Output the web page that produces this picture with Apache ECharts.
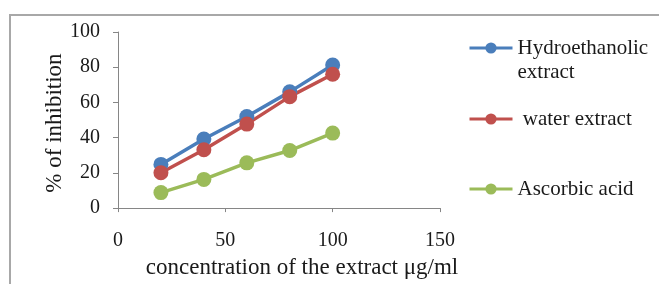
<!DOCTYPE html>
<html>
<head>
<meta charset="utf-8">
<script src="https://cdn.jsdelivr.net/npm/echarts@6/dist/echarts.min.js"></script>
<style>
  body { margin: 0; background: #fff; }
  #wrap { position: relative; width: 659px; height: 284px; overflow: hidden; }
  #frame { position: absolute; left: 9px; top: 14px; width: 700px; height: 300px;
           border-left: 2px solid #a8a8a8; border-top: 2px solid #a8a8a8; }
  #chart { position: absolute; left: 0; top: 0; width: 659px; height: 284px; }
</style>
</head>
<body>
<div id="wrap">
  <div id="frame"></div>
  <div id="chart"></div>
</div>
<script>
// concentration (µg/ml)
const concentrations = [20, 40, 60, 80, 100]
// % of inhibition
const hydroethanolic = [24.8, 39.2, 52, 66, 81.3]
const waterExtract = [20.1, 33.1, 47.7, 63.3, 76]
const ascorbicAcid = [8.8, 16.3, 25.7, 32.7, 42.6]
const seriesNames = ['Hydroethanolic\nextract', ' water extract', 'Ascorbic acid']
const colors = ['#4a7ebb', '#c0504d', '#9bbb59']

const font = 'Liberation Serif'

function pairs (ys) {
  return concentrations.map((x, i) => [x, ys[i]])
}

function makeSeries (name, ys, color) {
  return {
    name: name,
    type: 'line',
    data: pairs(ys),
    symbol: 'circle',
    symbolSize: 15,
    color: color,
    lineStyle: { width: 3.5, color: color },
    itemStyle: { color: color }
  }
}

// one legend block per series so each can sit where the original put it
function makeLegend (name, top, formatter) {
  return {
    data: [name],
    orient: 'vertical',
    left: 468,
    top: top,
    padding: 0,
    itemWidth: 43,
    itemHeight: 14,
    lineStyle: { width: 3 },
    formatter: formatter,
    textStyle: { fontFamily: font, fontSize: 21, color: '#1a1a1a', lineHeight: 24 }
  }
}

const chart = echarts.init(document.getElementById('chart'))
chart.setOption({
  animation: false,
  backgroundColor: 'transparent',
  grid: { left: 118, top: 32, width: 322, height: 177 },
  legend: [
    // empty first line so the first text line lines up with the icon
    makeLegend(seriesNames[0], 12, function (name) { return '\n' + name }),
    makeLegend(seriesNames[1], 107),
    makeLegend(seriesNames[2], 177)
  ],
  xAxis: {
    type: 'value',
    min: 0,
    max: 150,
    interval: 50,
    name: 'concentration of the extract μg/ml',
    nameLocation: 'middle',
    nameGap: 46,
    nameTextStyle: { fontFamily: font, fontSize: 23, color: '#1a1a1a', padding: [0, 0, 0, 46] },
    axisLine: { lineStyle: { color: '#868686', width: 1 } },
    axisTick: { show: true, length: 4, lineStyle: { color: '#868686' } },
    axisLabel: { fontFamily: font, fontSize: 20, color: '#1a1a1a', margin: 23 },
    splitLine: { show: false }
  },
  yAxis: {
    type: 'value',
    min: 0,
    max: 100,
    interval: 20,
    name: '% of inhibition',
    nameLocation: 'middle',
    nameGap: 49,
    nameTextStyle: { fontFamily: font, fontSize: 23, color: '#1a1a1a', padding: [0, 6, 0, 0] },
    axisLine: { show: true, lineStyle: { color: '#868686', width: 1 } },
    axisTick: { show: true, length: 5, lineStyle: { color: '#868686' } },
    axisLabel: { fontFamily: font, fontSize: 20, color: '#1a1a1a', margin: 18 },
    splitLine: { show: false }
  },
  series: [
    makeSeries(seriesNames[0], hydroethanolic, colors[0]),
    makeSeries(seriesNames[1], waterExtract, colors[1]),
    makeSeries(seriesNames[2], ascorbicAcid, colors[2])
  ]
})
</script>
</body>
</html>
